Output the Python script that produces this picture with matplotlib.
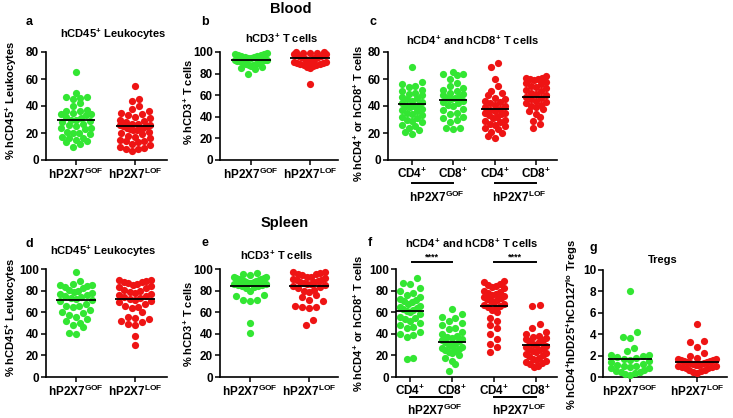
import numpy as np
import matplotlib
matplotlib.use("Agg")
import matplotlib.pyplot as plt
import matplotlib.transforms as mtransforms

plt.rcParams['font.family'] = ['Liberation Sans', 'DejaVu Sans']
plt.rcParams['font.weight'] = 'bold'
plt.rcParams['mathtext.fontset'] = 'custom'
plt.rcParams['mathtext.rm'] = 'Liberation Sans'
plt.rcParams['mathtext.bf'] = 'Liberation Sans:bold'
plt.rcParams['mathtext.it'] = 'Liberation Sans:italic'

GREEN = "#33e633"
RED = "#ee1414"

# ---------------- data ----------------
groups2 = ["hP2X7$^{\\mathrm{GOF}}$", "hP2X7$^{\\mathrm{LOF}}$"]
groups4 = ["CD4$^{\\mathbf{+}}$", "CD8$^{\\mathbf{+}}$", "CD4$^{\\mathbf{+}}$", "CD8$^{\\mathbf{+}}$"]

# Blood
a_gof = [65, 50, 47, 47, 46, 45, 42, 40, 37, 36, 36, 35, 34, 34, 33, 32, 31, 30, 30, 29,
         28, 27, 26, 25, 24, 24, 23, 21, 20, 20, 19, 17, 16, 16, 15, 14, 13, 12, 10]
a_lof = [55, 45, 44, 40, 38, 36, 35, 34, 33, 32, 31, 30, 29, 28, 27, 27, 26, 26, 25, 25,
         24, 24, 23, 23, 22, 22, 21, 20, 19, 18, 17, 16, 15, 14, 14, 13, 12, 11, 10, 9, 8, 8, 7]
a_means = [29.6, 25.4]

b_gof = [99, 98, 98, 97, 97, 96, 96, 95, 95, 94, 94, 93, 93, 93, 92, 92, 92, 91, 91, 90,
         90, 89, 89, 88, 88, 87, 86, 85, 84, 80]
b_lof = [100, 100, 99, 99, 99, 98, 98, 98, 97, 97, 97, 96, 96, 96, 95, 95, 95, 94, 94, 94,
         93, 93, 93, 92, 92, 91, 91, 90, 90, 89, 89, 88, 88, 87, 86, 85, 70]
b_means = [92.3, 94.4]

c_cd4_gof = [69, 58, 56, 55, 54, 52, 51, 50, 49, 48, 47, 46, 45, 44, 43, 42, 41, 40, 40, 39,
             38, 37, 36, 35, 34, 33, 32, 31, 30, 29, 28, 26, 25, 24, 22, 21, 19]
c_cd8_gof = [65, 64, 64, 63, 60, 57, 55, 53, 52, 51, 50, 49, 48, 47, 46, 46, 45, 44, 43, 42,
             41, 40, 38, 37, 35, 34, 32, 31, 30, 28, 24, 24, 23]
c_cd4_lof = [72, 69, 60, 55, 51, 50, 48, 46, 45, 44, 43, 42, 41, 40, 39, 38, 37, 36, 35, 35,
             34, 33, 32, 31, 30, 29, 28, 27, 26, 25, 24, 23, 21, 20, 18, 16]
c_cd8_lof = [62, 61, 61, 60, 60, 59, 58, 57, 56, 55, 54, 53, 52, 51, 50, 49, 48, 47, 46, 45,
             44, 43, 42, 41, 40, 39, 38, 36, 34, 32, 29, 27, 24]
c_means = [41.5, 44.4, 37.8, 46.9]

# Spleen
d_gof = [97, 89, 86, 85, 85, 84, 83, 82, 81, 80, 79, 78, 77, 76, 75, 74, 73, 72, 71, 70,
         68, 66, 66, 65, 62, 60, 59, 57, 56, 54, 52, 50, 48, 46, 41, 40]
d_lof = [90, 90, 89, 88, 88, 87, 86, 85, 84, 83, 82, 81, 80, 79, 78, 77, 76, 75, 74, 73,
         72, 71, 70, 69, 68, 66, 65, 64, 60, 56, 55, 54, 52, 51, 49, 48, 38, 30]
d_means = [71.0, 72.2]

e_gof = [96, 95, 94, 93, 93, 92, 92, 91, 91, 90, 90, 89, 89, 88, 88, 87, 87, 86, 86, 85,
         85, 84, 84, 83, 82, 80, 76, 75, 71, 71, 70, 50, 41]
e_lof = [97, 97, 96, 95, 95, 94, 93, 93, 92, 91, 90, 90, 89, 88, 88, 87, 86, 86, 85, 84,
         83, 82, 81, 80, 79, 76, 74, 71, 70, 66, 65, 65, 64, 53, 48]
e_means = [84.5, 84.0]

f_cd4_gof = [92, 87, 86, 82, 80, 78, 76, 74, 72, 71, 70, 69, 68, 66, 65, 64, 63, 62, 61, 60,
             58, 56, 55, 54, 52, 50, 48, 46, 45, 42, 40, 39, 37, 18, 17]
f_cd8_gof = [63, 58, 56, 55, 52, 50, 48, 45, 44, 42, 40, 38, 37, 36, 35, 34, 33, 32, 31, 30,
             29, 28, 27, 26, 25, 24, 23, 22, 20, 18, 15, 12, 6]
f_cd4_lof = [89, 88, 86, 85, 84, 83, 82, 80, 79, 78, 77, 76, 75, 74, 73, 72, 71, 70, 69, 68,
             67, 66, 65, 64, 62, 60, 55, 52, 48, 45, 40, 35, 31, 28, 23]
f_cd8_lof = [67, 66, 49, 45, 42, 40, 38, 37, 36, 35, 34, 33, 32, 31, 30, 29, 28, 27, 26, 25,
             24, 23, 22, 21, 20, 19, 18, 17, 16, 15, 14, 13, 12, 10, 9]
f_means = [61.0, 32.4, 65.7, 29.6]

g_gof = [8.0, 4.2, 3.7, 3.6, 2.7, 2.4, 2.1, 2.1, 2.0, 1.9, 1.8, 1.7, 1.6, 1.5, 1.4, 1.2,
         1.1, 1.0, 1.0, 0.9, 0.8, 0.8, 0.7, 0.6, 0.5, 0.5, 0.4, 0.3, 0.2]
g_lof = [5.0, 3.4, 3.3, 2.8, 2.2, 2.0, 1.8, 1.7, 1.7, 1.6, 1.6, 1.5, 1.5, 1.4, 1.4, 1.3,
         1.3, 1.2, 1.2, 1.1, 1.1, 1.0, 1.0, 0.9, 0.9, 0.8, 0.8, 0.7, 0.7, 0.6, 0.5, 0.4]
g_means = [1.71, 1.43]

# ---------------- figure ----------------
W, H = 733, 418
fig = plt.figure(figsize=(W / 100, H / 100), dpi=100)
fig.patch.set_facecolor("white")


def make_ax(x0, x1, ytop, ybot, ymax, ystep, tick_px, labels, xfs=8.5):
    ax = fig.add_axes([x0 / W, 1 - ybot / H, (x1 - x0) / W, (ybot - ytop) / H])
    n = len(tick_px)
    scale = (tick_px[-1] - tick_px[0]) / (n - 1)
    ax.set_xlim(1 - (tick_px[0] - x0) / scale, n + (x1 - tick_px[-1]) / scale)
    ax.set_ylim(0, ymax)
    ax.set_yticks(np.arange(0, ymax + ystep / 2, ystep))
    ax.set_xticks(np.arange(1, n + 1))
    ax.set_xticklabels(labels, fontsize=xfs, fontweight='bold')
    for s in ("top", "right"):
        ax.spines[s].set_visible(False)
    for s in ("left", "bottom"):
        ax.spines[s].set_linewidth(1.2)
    ax.tick_params(axis='both', direction='out', length=3.5, width=1.1, pad=1.5)
    ax.tick_params(axis='y', labelsize=8.5)
    for lab in ax.get_yticklabels():
        lab.set_fontweight('bold')
    ax.patch.set_alpha(0)
    return ax


def swarm(ax, xc, ys, color, max_off, row_h=6.5, dx=7.0):
    """Row-binned dot plot (GraphPad style): points within one dot height share a row."""
    ys = np.asarray(ys, dtype=float)
    trans = ax.transData
    pts = trans.transform(np.column_stack([np.full(len(ys), xc), ys]))
    cx = pts[0, 0]
    ypx = pts[:, 1]
    order = np.argsort(ypx)
    rows = []
    cur = [order[0]]
    start = ypx[order[0]]
    for i in order[1:]:
        if ypx[i] - start < row_h:
            cur.append(i)
        else:
            rows.append(cur)
            cur = [i]
            start = ypx[i]
    rows.append(cur)
    xs_px = np.zeros(len(ys))
    for row in rows:
        n = len(row)
        if n == 1:
            xs_px[row[0]] = cx
            continue
        sp = min(dx, 2 * max_off / (n - 1))
        slots = (np.arange(n) - (n - 1) / 2) * sp
        slot_order = np.argsort(np.abs(slots) + 1e-3 * np.arange(n))
        # lowest value at center, higher values outward -> V shape
        row_sorted = sorted(row, key=lambda j: ypx[j])
        for j, s_idx in zip(row_sorted, slot_order):
            xs_px[j] = cx + slots[s_idx]
    data = trans.inverted().transform(np.column_stack([xs_px, ypx]))
    ax.scatter(data[:, 0], ys, s=27, color=color, linewidths=0, zorder=3, clip_on=False)


def mean_line(ax, xc, m, half_px):
    p0 = ax.transData.transform((xc, m))
    x_left = ax.transData.inverted().transform((p0[0] - half_px, p0[1]))[0]
    x_right = ax.transData.inverted().transform((p0[0] + half_px, p0[1]))[0]
    ax.plot([x_left, x_right], [m, m], color='black', lw=1.3, zorder=4,
            solid_capstyle='butt')


def ftext(x, y, s, **kw):
    fig.text(x / W, 1 - y / H, s, **kw)


def panel2(ax, gof, lof, means, half_px=20, max_off=15):
    swarm(ax, 1, gof, GREEN, max_off)
    swarm(ax, 2, lof, RED, max_off)
    mean_line(ax, 1, means[0], half_px)
    mean_line(ax, 2, means[1], half_px)


def panel4(ax, sets, means, half_px=14, max_off=10):
    cols = [GREEN, GREEN, RED, RED]
    for i, (vals, m, c) in enumerate(zip(sets, means, cols)):
        swarm(ax, i + 1, vals, c, max_off)
        mean_line(ax, i + 1, m, half_px)


def group_lines(ax, y_line, y_text):
    tr = mtransforms.blended_transform_factory(ax.transData, ax.transAxes)
    for (x0, x1), lab in zip([(1, 2), (3, 4)], groups2):
        ax.plot([x0, x1], [y_line, y_line], color='black', lw=1.4, transform=tr,
                clip_on=False)
        ax.text((x0 + x1) / 2 + 0.1, y_text, lab, transform=tr, ha='center', va='center',
                fontsize=8.5, fontweight='bold')


# ---------- Blood ----------
ax_a = make_ax(46, 167, 52, 160, 80, 20, [76, 135], groups2)
panel2(ax_a, a_gof, a_lof, a_means, 19, 15)

ax_b = make_ax(220, 338, 52, 160, 100, 20, [251, 310], groups2)
panel2(ax_b, b_gof, b_lof, b_means, 20, 16)

ax_c = make_ax(388, 557, 52, 160, 80, 20, [412, 453, 494, 536], groups4)
panel4(ax_c, [c_cd4_gof, c_cd8_gof, c_cd4_lof, c_cd8_lof], c_means, 14, 10)
group_lines(ax_c, -0.213, -0.345)

# ---------- Spleen ----------
ax_d = make_ax(46, 167, 269, 377, 100, 20, [76, 135], groups2)
panel2(ax_d, d_gof, d_lof, d_means, 20, 16)

ax_e = make_ax(220, 338, 269, 377, 100, 20, [250, 309], groups2)
panel2(ax_e, e_gof, e_lof, e_means, 20, 16)

ax_f = make_ax(396, 557, 269, 377, 100, 20, [410, 452, 494, 536], groups4)
panel4(ax_f, [f_cd4_gof, f_cd8_gof, f_cd4_lof, f_cd8_lof], f_means, 14, 10)
group_lines(ax_f, -0.185, -0.305)
trf = mtransforms.blended_transform_factory(ax_f.transData, ax_f.transAxes)
for x0, x1 in [(1.05, 2.0), (3.0, 4.0)]:
    ax_f.plot([x0, x1], [1.065, 1.065], color='black', lw=1.4, transform=trf, clip_on=False)
    ax_f.text((x0 + x1) / 2, 1.07, "****", transform=trf, ha='center', va='bottom',
              fontsize=6.5, fontweight='bold')

ax_g = make_ax(603, 727, 270, 377, 10, 2, [630, 697], groups2)
panel2(ax_g, g_gof, g_lof, g_means, 22, 19)

# ---------- labels ----------
ftext(291, 9, "Blood", ha='center', va='center', fontsize=10.5, fontweight='bold')
ftext(285, 223, "Spleen", ha='center', va='center', fontsize=10.5, fontweight='bold')

for x, y, s in [(29, 22, "a"), (205, 22, "b"), (373, 22, "c"),
                (29, 244, "d"), (205, 243, "e"), (370, 243, "f"), (593, 248, "g")]:
    ftext(x, y, s, ha='center', va='center', fontsize=9, fontweight='bold')

tfs = 8
ftext(113, 34, "hCD45$^{\\mathbf{+}}$ Leukocytes", ha='center', va='center', fontsize=tfs, fontweight='bold')
ftext(282, 38, "hCD3$^{\\mathbf{+}}$ T cells", ha='center', va='center', fontsize=tfs, fontweight='bold')
ftext(473, 40, "hCD4$^{\\mathbf{+}}$ and hCD8$^{\\mathbf{+}}$ T cells", ha='center', va='center', fontsize=tfs, fontweight='bold')
ftext(103, 251, "hCD45$^{\\mathbf{+}}$ Leukocytes", ha='center', va='center', fontsize=tfs, fontweight='bold')
ftext(277, 255, "hCD3$^{\\mathbf{+}}$ T cells", ha='center', va='center', fontsize=tfs, fontweight='bold')
ftext(472, 243, "hCD4$^{\\mathbf{+}}$ and hCD8$^{\\mathbf{+}}$ T cells", ha='center', va='center', fontsize=tfs, fontweight='bold')
ftext(663, 260, "Tregs", ha='center', va='center', fontsize=tfs, fontweight='bold')

yfs = 8
ylabs = [
    (11, 100, "% hCD45$^{\\mathbf{+}}$ Leukocytes"),
    (188, 102, "% hCD3$^{\\mathbf{+}}$ T cells"),
    (358, 113, "% hCD4$^{\\mathbf{+}}$ or hCD8$^{\\mathbf{+}}$ T cells"),
    (11, 317, "% hCD45$^{\\mathbf{+}}$ Leukocytes"),
    (188, 324, "% hCD3$^{\\mathbf{+}}$ T cells"),
    (358, 323, "% hCD4$^{\\mathbf{+}}$ or hCD8$^{\\mathbf{+}}$ T cells"),
    (572, 325, "% hCD4$^{\\mathbf{+}}$hDD25$^{\\mathbf{+}}$hCD127$^{\\mathbf{lo}}$ Tregs"),
]
for x, y, s in ylabs:
    ftext(x, y, s, ha='center', va='center', rotation=90, fontsize=yfs, fontweight='bold')

fig.savefig("out.png", dpi=100, facecolor="white")
